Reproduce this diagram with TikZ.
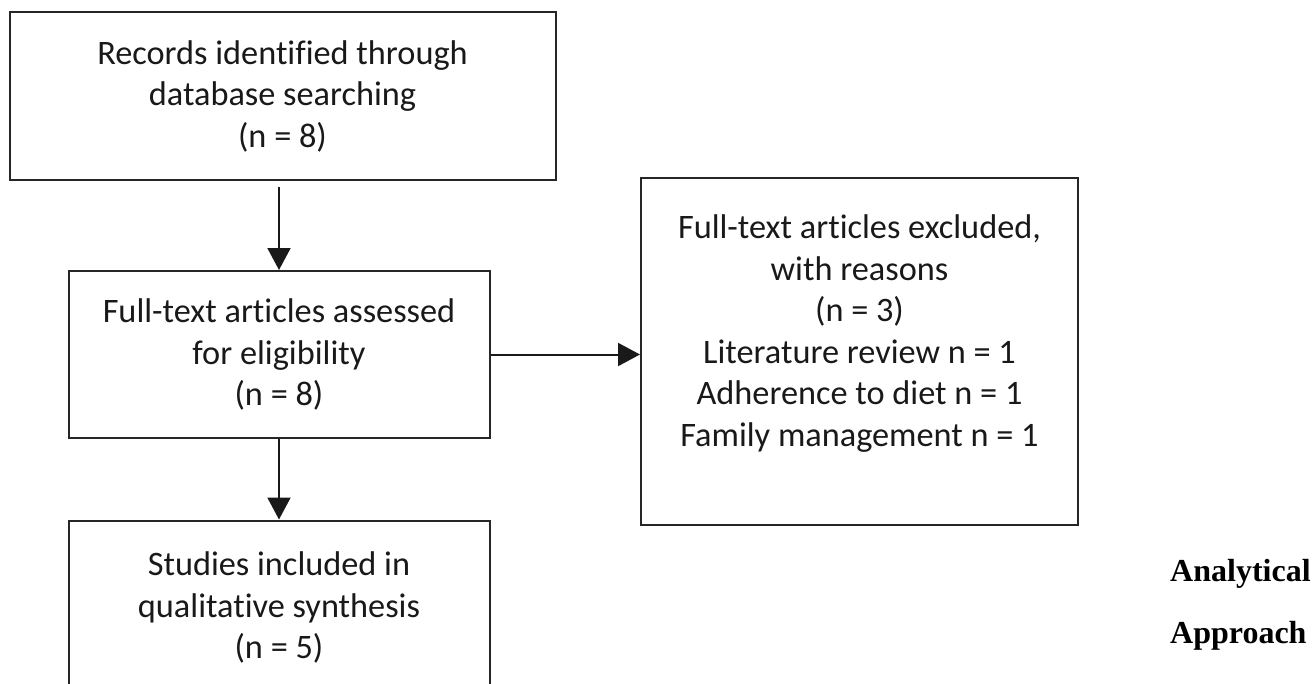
\documentclass[tikz,border=0pt]{standalone}
\usepackage{fontspec}
\setmainfont[Ligatures=NoCommon]{Carlito}
\newfontfamily\tnr{Liberation Serif}
\usetikzlibrary{arrows.meta}
\begin{document}
\begin{tikzpicture}[x=1pt,y=-1pt,
  box/.style={draw=black!85, line width=2pt, align=center, inner sep=0pt,
    font=\fontsize{34.3}{41.5}\selectfont, text=black!90},
  arr/.style={-{Triangle[length=22pt,width=23pt]}, line width=2pt, draw=black!90, fill=black!90},
  side/.style={font=\tnr\bfseries\fontsize{32}{36}\selectfont, anchor=base west, inner sep=0pt}]
\path[use as bounding box, clip] (0,0) rectangle (1315,683);
\node[box, minimum width=546pt, minimum height=168pt] (rec) at (282.5,96)
  {Records identified through\\database searching\\(n = 8)};
\node[box, minimum width=421pt, minimum height=167pt] (full) at (279,354.5)
  {Full-text articles assessed\\for eligibility\\(n = 8)};
\node[box, minimum width=421pt, minimum height=174pt] (incl) at (279,607.5)
  {Studies included in\\qualitative synthesis\\(n = 5)};
\node[box, minimum width=437pt, minimum height=347pt] (excl) at (859.5,351.5)
  {Full-text articles excluded,\\with reasons\\(n = 3)\\Literature review n = 1\\Adherence to diet n = 1\\Family management n = 1\\\mbox{}};
\draw[arr, shorten <=6pt] (full.north |- rec.south) -- (full.north);
\draw[arr] (full.south) -- (incl.north);
\draw[arr] (full.east) -- (full.east -| excl.west);
\node[side] (ana) at (1170,581) {Analytical};
\node[side] (app) at (1170,643) {Approach};
\end{tikzpicture}
\end{document}
